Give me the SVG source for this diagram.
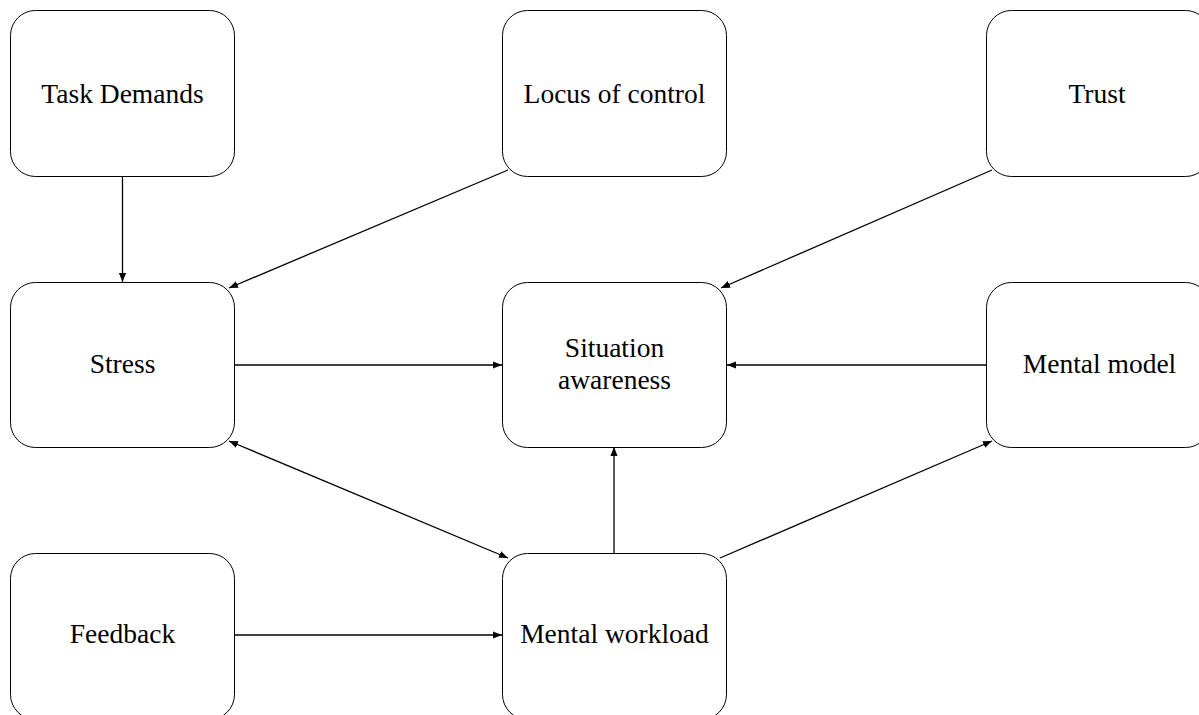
<svg xmlns="http://www.w3.org/2000/svg" width="1199" height="715" viewBox="0 0 1199 715">
<style>
.box{fill:#fff;stroke:#000;stroke-width:1}
.lbl{font-family:"Liberation Serif","Times New Roman",serif;font-size:27.5px;fill:#000;text-anchor:middle}
.edge{stroke:#000;stroke-width:1.3;fill:none}
</style>
<defs>
<marker id="ah" viewBox="0 0 10 10" refX="10" refY="5" markerWidth="9" markerHeight="9" markerUnits="userSpaceOnUse" orient="auto-start-reverse">
<path d="M0,1 L10,5 L0,9 z" fill="#000"/>
</marker>
</defs>
<rect width="1199" height="715" fill="#fff"/>
<g id="connectors">
<line class="edge" x1="122.5" y1="176.5" x2="122.5" y2="282" marker-end="url(#ah)"/>
<line class="edge" x1="508" y1="170" x2="229" y2="288" marker-end="url(#ah)"/>
<line class="edge" x1="992" y1="170" x2="721" y2="288" marker-end="url(#ah)"/>
<line class="edge" x1="235" y1="365" x2="502" y2="365" marker-end="url(#ah)"/>
<line class="edge" x1="986.5" y1="365" x2="727" y2="365" marker-end="url(#ah)"/>
<line class="edge" x1="229" y1="441" x2="508" y2="558" marker-start="url(#ah)" marker-end="url(#ah)"/>
<line class="edge" x1="614" y1="553.5" x2="614" y2="447" marker-end="url(#ah)"/>
<line class="edge" x1="720" y1="558" x2="992" y2="441" marker-end="url(#ah)"/>
<line class="edge" x1="235" y1="635" x2="502" y2="635" marker-end="url(#ah)"/>
</g>
<g id="task-demands"><rect class="box" x="10.5" y="10.5" width="224" height="166" rx="25"/><text class="lbl" x="122.5" y="103">Task Demands</text></g>
<g id="locus-of-control"><rect class="box" x="502.5" y="10.5" width="224" height="166" rx="25"/><text class="lbl" x="614.5" y="103">Locus of control</text></g>
<g id="trust"><rect class="box" x="986.5" y="10.5" width="224" height="166" rx="25"/><text class="lbl" x="1097" y="103">Trust</text></g>
<g id="stress"><rect class="box" x="10.5" y="282.5" width="224" height="165" rx="25"/><text class="lbl" x="122.5" y="373">Stress</text></g>
<g id="situation-awareness"><rect class="box" x="502.5" y="282.5" width="224" height="165" rx="25"/><text class="lbl" x="614.5" y="357">Situation</text><text class="lbl" x="614.5" y="389">awareness</text></g>
<g id="mental-model"><rect class="box" x="986.5" y="282.5" width="224" height="165" rx="25"/><text class="lbl" x="1099.5" y="373">Mental model</text></g>
<g id="feedback"><rect class="box" x="10.5" y="553.5" width="224" height="166" rx="25"/><text class="lbl" x="122.5" y="643">Feedback</text></g>
<g id="mental-workload"><rect class="box" x="502.5" y="553.5" width="224" height="166" rx="25"/><text class="lbl" x="614.5" y="643">Mental workload</text></g>
</svg>
